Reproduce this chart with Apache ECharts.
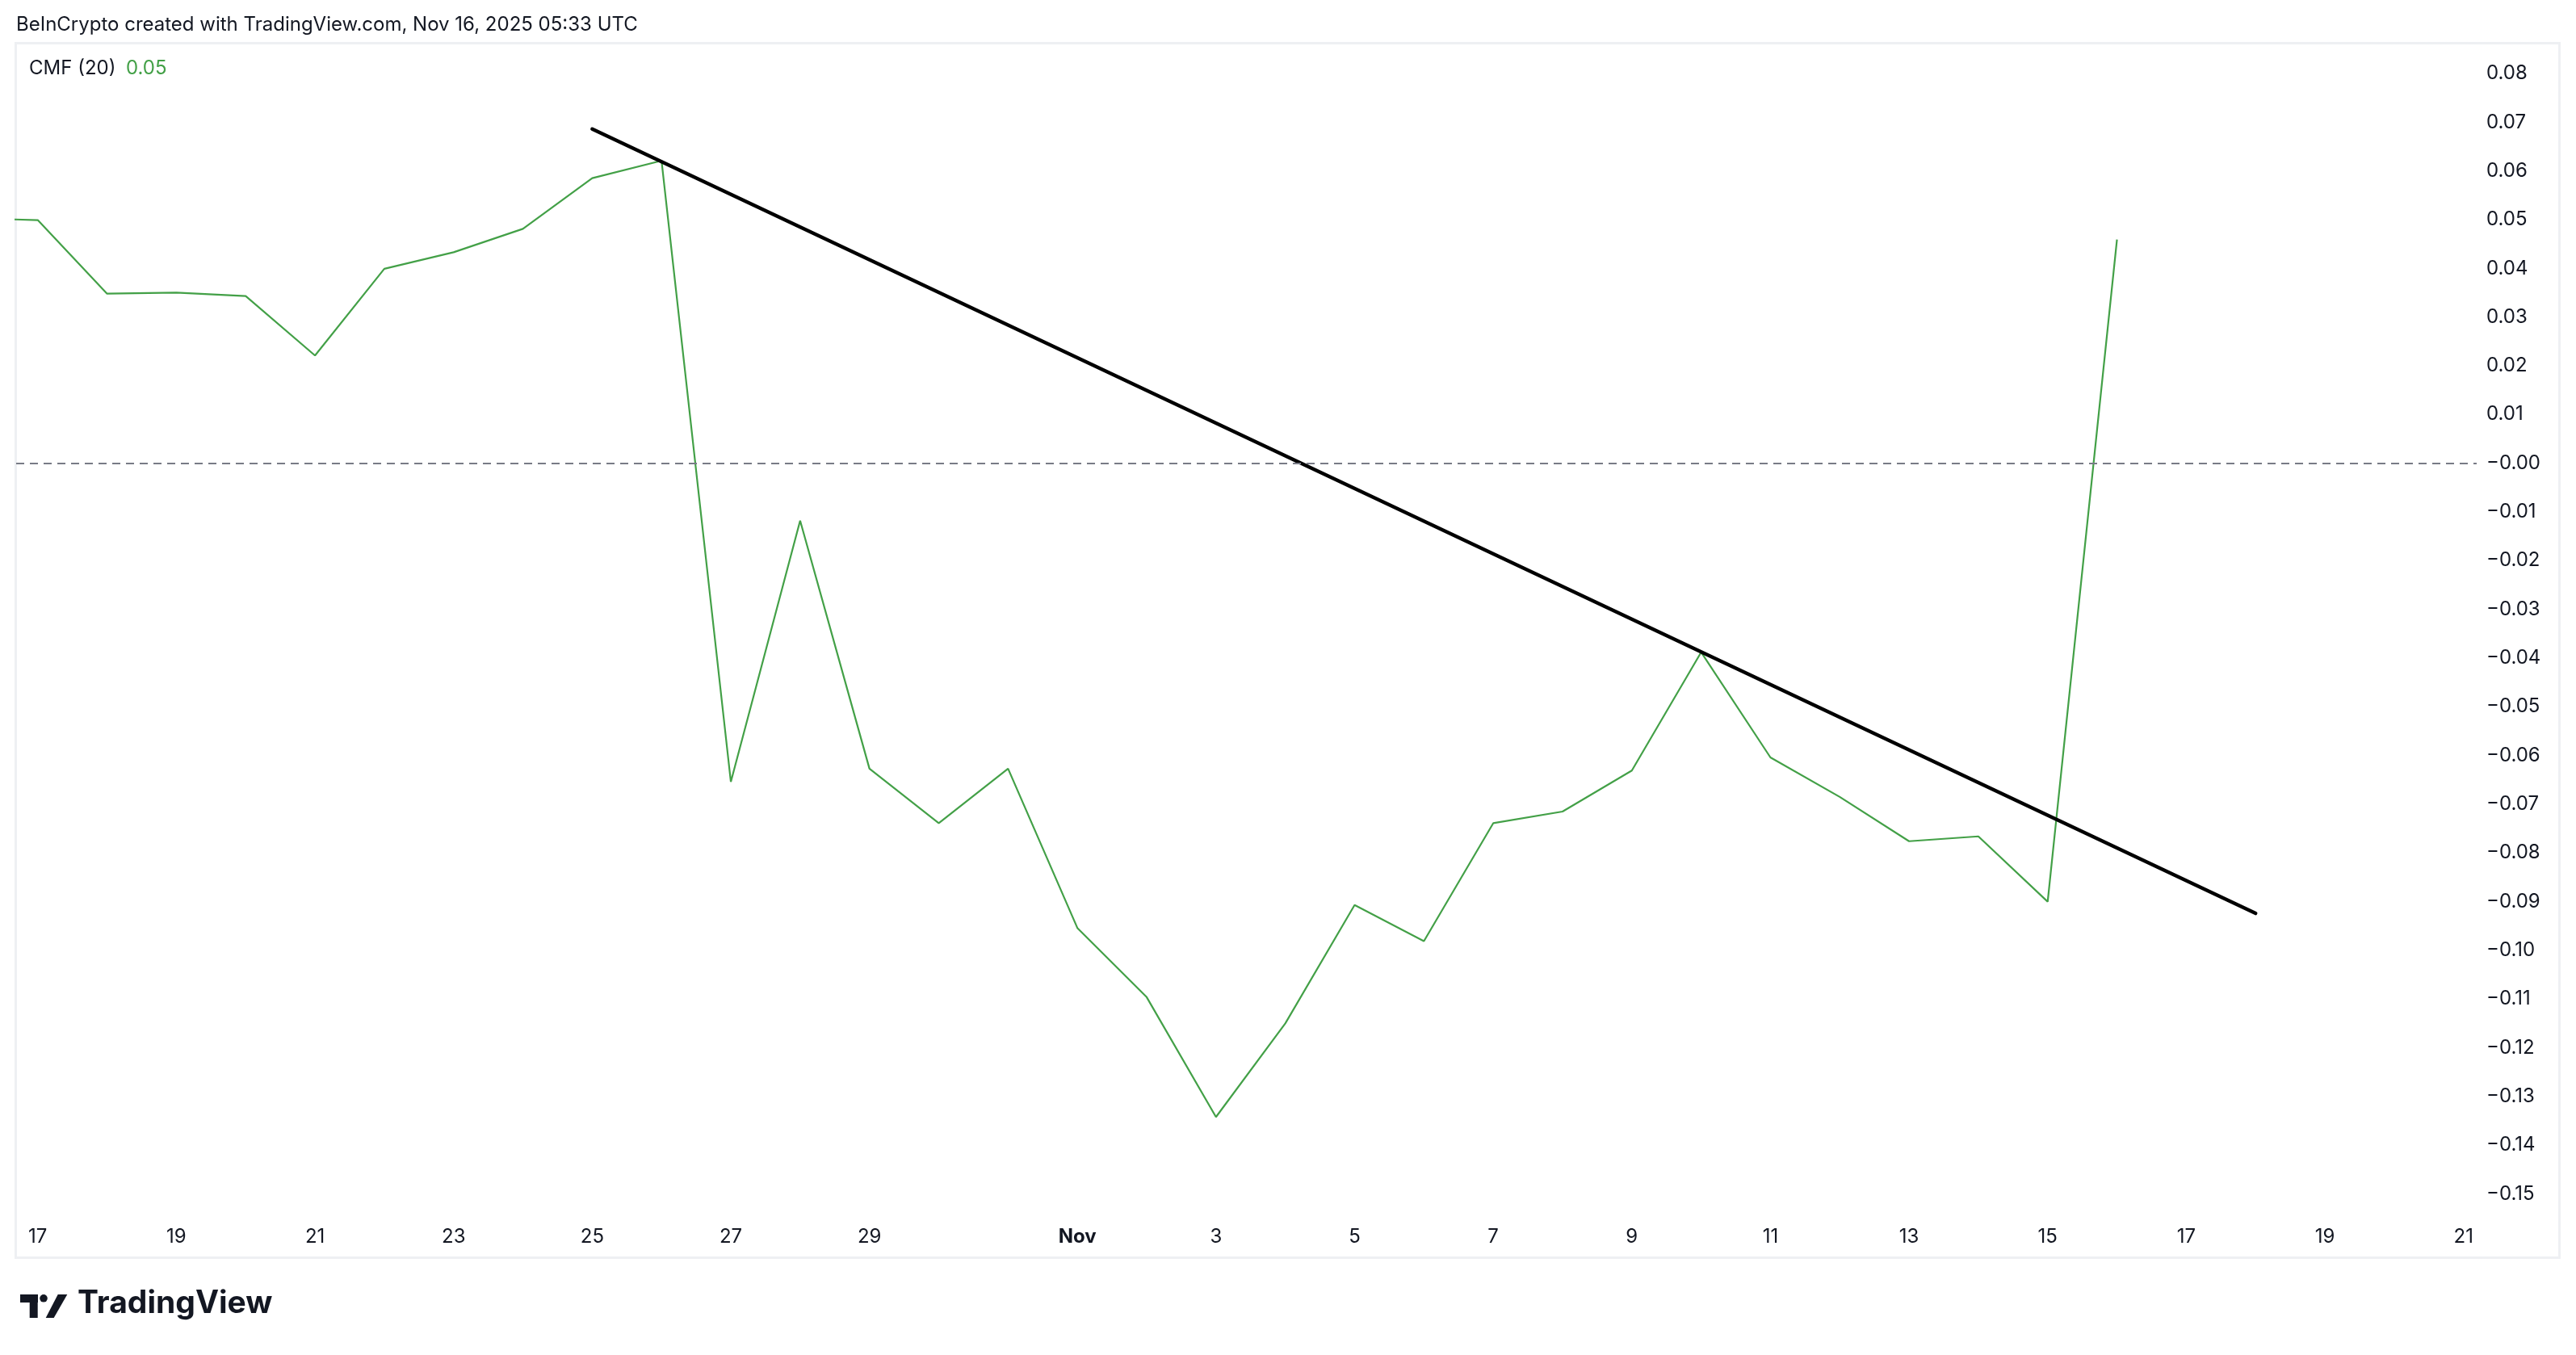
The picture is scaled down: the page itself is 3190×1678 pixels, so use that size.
<!DOCTYPE html>
<html><head><meta charset="utf-8">
<script src="https://cdn.jsdelivr.net/npm/echarts@6/dist/echarts.min.js"></script>
<style>html,body{margin:0;padding:0;background:#fff}#c{width:3190px;height:1678px}</style>
</head><body><div id="c"></div>
<script>
// ---- data ----
const dates = ['2025-10-16','2025-10-17','2025-10-18','2025-10-19','2025-10-20','2025-10-21','2025-10-22','2025-10-23','2025-10-24','2025-10-25','2025-10-26','2025-10-27','2025-10-28','2025-10-29','2025-10-30','2025-10-31','2025-11-01','2025-11-02','2025-11-03','2025-11-04','2025-11-05','2025-11-06','2025-11-07','2025-11-08','2025-11-09','2025-11-10','2025-11-11','2025-11-12','2025-11-13','2025-11-14','2025-11-15','2025-11-16'];
const cmfValues = [0.0503,0.0499,0.0348,0.0350,0.0343,0.0221,0.0399,0.0433,0.0481,0.0585,0.0621,-0.0654,-0.0118,-0.0627,-0.0739,-0.0627,-0.0954,-0.1096,-0.1342,-0.1150,-0.0907,-0.0981,-0.0739,-0.0715,-0.0631,-0.0388,-0.0604,-0.0685,-0.0776,-0.0766,-0.0900,0.0459];
const trendDates = ['2025-10-25','2025-11-18'];
const trendValues = [0.0686, -0.0924];
const xTickDates = ['2025-10-17','2025-10-19','2025-10-21','2025-10-23','2025-10-25','2025-10-27','2025-10-29','2025-11-01','2025-11-03','2025-11-05','2025-11-07','2025-11-09','2025-11-11','2025-11-13','2025-11-15','2025-11-17','2025-11-19','2025-11-21'];
const xTickLabels = ['17','19','21','23','25','27','29','Nov','3','5','7','9','11','13','15','17','19','21'];
const yTickValues = [0.08,0.07,0.06,0.05,0.04,0.03,0.02,0.01,0,-0.01,-0.02,-0.03,-0.04,-0.05,-0.06,-0.07,-0.08,-0.09,-0.10,-0.11,-0.12,-0.13,-0.14,-0.15];
const headerText = 'BeInCrypto created with TradingView.com, Nov 16, 2025 05:33 UTC';
const indicatorName = 'CMF (20)';
const indicatorValue = '0.05';

// ---- helpers ----
const BASE = Date.UTC(2025, 9, 17);
function dayIdx(s){ const p = s.split('-').map(Number); return (Date.UTC(p[0], p[1]-1, p[2]) - BASE) / 86400000; }
const tickIdx = xTickDates.map(dayIdx);
const labelMap = {};
tickIdx.forEach((d, i) => labelMap[d] = xTickLabels[i]);
const cmfData = dates.map((d, i) => [dayIdx(d), cmfValues[i]]);
const trendData = trendDates.map((d, i) => [dayIdx(d), trendValues[i]]);

const FONT = 'Inter';
const TXT = '#131722';
const GREEN = '#43a047';

const chart = echarts.init(document.getElementById('c'), null, {renderer: 'canvas'});
chart.setOption({
  animation: false,
  backgroundColor: '#ffffff',
  grid: {left: 20, right: 123, top: 55, bottom: 173, containLabel: false},
  xAxis: {
    type: 'value', min: -0.312, max: 35.19,
    axisLine: {show: false}, axisTick: {show: false}, splitLine: {show: false},
    axisLabel: {
      customValues: tickIdx, margin: 15, fontFamily: FONT, fontSize: 24, color: TXT,
      formatter: v => { const l = labelMap[Math.round(v)]; return /[A-Za-z]/.test(l) ? '{b|' + l + '}' : l; },
      rich: {b: {fontFamily: FONT, fontSize: 24, fontWeight: 'bold', color: TXT}}
    }
  },
  yAxis: {
    type: 'value', position: 'right', min: -0.15438, max: 0.08596,
    axisLine: {show: false}, axisTick: {show: false}, splitLine: {show: false},
    axisLabel: {
      customValues: yTickValues, margin: 12, align: 'left', fontFamily: FONT, fontSize: 24, color: TXT,
      formatter: v => (v <= 1e-9 ? '\u2212' : '') + Math.abs(v).toFixed(2)
    }
  },
  series: [
    {
      type: 'line', data: cmfData, showSymbol: false, symbol: 'none',
      lineStyle: {color: GREEN, width: 2.2}, z: 3,
      markLine: {
        silent: true, symbol: 'none', label: {show: false},
        lineStyle: {color: '#787b86', width: 2, type: [10, 7]},
        data: [{yAxis: 0}]
      }
    },
    {
      type: 'line', data: trendData, showSymbol: false, symbol: 'none',
      lineStyle: {color: '#000000', width: 4.5, cap: 'round'}, z: 4
    }
  ],
  graphic: [
    {type: 'rect', shape: {x: 19.5, y: 53.5, width: 3150, height: 1504}, style: {fill: 'none', stroke: '#eef0f3', lineWidth: 3}, silent: true, z: -1},
    {type: 'text', left: 20, top: 19, style: {text: headerText, fontFamily: FONT, fontSize: 24, fill: TXT}},
    {type: 'text', left: 36, top: 73, style: {text: indicatorName, fontFamily: FONT, fontSize: 24, fill: TXT}},
    {type: 'text', left: 156, top: 73, style: {text: indicatorValue, fontFamily: FONT, fontSize: 24, fill: GREEN}},
    // TradingView logo
    {type: 'rect', shape: {x: 25, y: 1603, width: 22, height: 10}, style: {fill: '#131722'}},
    {type: 'rect', shape: {x: 36.7, y: 1603, width: 10, height: 29}, style: {fill: '#131722'}},
    {type: 'circle', shape: {cx: 54, cy: 1607.8, r: 4.8}, style: {fill: '#131722'}},
    {type: 'polygon', shape: {points: [[56.7, 1632], [66.7, 1632], [83.3, 1603], [71.7, 1603]]}, style: {fill: '#131722'}},
    {type: 'text', left: 96, top: 1595, style: {text: 'TradingView', fontFamily: FONT, fontSize: 39, fontWeight: 'bold', fill: '#131722'}}
  ]
});
</script></body></html>
